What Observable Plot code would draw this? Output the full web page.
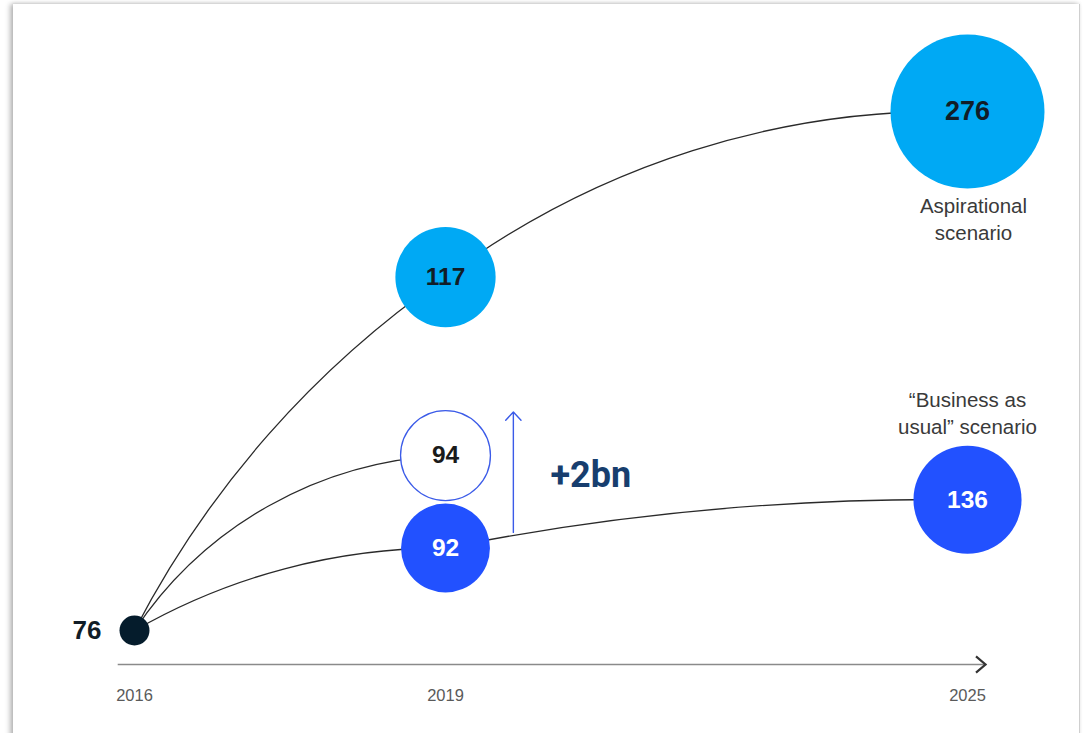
<!DOCTYPE html>
<html>
<head>
<meta charset="utf-8">
<script src="https://cdn.jsdelivr.net/npm/d3@7"></script>
<script src="https://cdn.jsdelivr.net/npm/@observablehq/plot@0.6"></script>
<style>
  html, body { margin: 0; padding: 0; background: #fff; width: 1083px; height: 733px; overflow: hidden; }
  #card { position: absolute; left: 13px; top: 4px; width: 1066px; height: 800px; background: #fff;
          box-shadow: -3px 0 5px rgba(0,0,0,0.28), 0 -1px 3px rgba(0,0,0,0.07); border-right: 1px solid #cfcfcf; }
  #chart { position: absolute; left: 0; top: 0; }
</style>
</head>
<body>
<div id="card"></div>
<div id="chart"></div>
<script>
// ---- Data ----
const years = [2016, 2019, 2025];
const baseYear = 2016;
const baseValue = 76;

// Aspirational scenario: 2016, 2019, 2025
const aspirationalYears = [2016, 2019, 2025];
const aspirationalValues = [76, 117, 276];
// "Business as usual" scenario
const bauYears = [2016, 2019, 2025];
const bauValues = [76, 92, 136];
// Upside point in 2019
const upsideYears = [2016, 2019];
const upsideValues = [76, 94];

// schematic vertical placement of each point (the chart is not drawn to scale)
const aspirationalLevels = [0, 68.1, 100];
const bauLevels = [0, 15.9, 25.2];
const upsideLevels = [0, 33.7];

// annotation: +2bn uplift from BAU to upside
const upliftLabel = "+2bn";
const upliftYear = 2019.78;
const upliftFrom = 18.9;
const upliftTo = 42.1;
const upliftLabelYear = 2020.67;
const upliftLabelLevel = 29.9;

const aspirationalLabel = "Aspirational\nscenario";
const bauLabel = "\u201CBusiness as\nusual\u201D scenario";

// ---- Build tables ----
function series(name, ys, vs, ls) {
  return ys.map((y, i) => ({scenario: name, year: y, value: vs[i], level: ls[i]}));
}
const aspirational = series("Aspirational", aspirationalYears, aspirationalValues, aspirationalLevels);
const bau = series("Business as usual", bauYears, bauValues, bauLevels);
const upside = series("Upside", upsideYears, upsideValues, upsideLevels);

function segments(pts) {
  const out = [];
  for (let i = 1; i < pts.length; i++) out.push({a: pts[i - 1], b: pts[i]});
  return out;
}
const bubbles = [...aspirational.slice(1), ...bau.slice(1), ...upside.slice(1)];
const base = [{year: baseYear, value: baseValue, level: 0}];

const fillOf = {"Aspirational": "#00a9f4", "Business as usual": "#2251ff", "Upside": "#ffffff"};
const textOf = {"Aspirational": "#111d27", "Business as usual": "#ffffff", "Upside": "#1a1a1a"};

const font = "'Liberation Sans', Arial, Helvetica, sans-serif";

const chevron = {
  draw(ctx, size) {
    const r = Math.sqrt(size / Math.PI);
    ctx.moveTo(-r, -r * 0.85);
    ctx.lineTo(0, 0);
    ctx.lineTo(-r, r * 0.85);
  }
};

function link(seg, bend) {
  return Plot.arrow([seg], {
    x1: d => d.a.year, y1: d => d.a.level,
    x2: d => d.b.year, y2: d => d.b.level,
    bend, headLength: 0, stroke: "#2a2a2a", strokeWidth: 1.3
  });
}
const aSeg = segments(aspirational), bSeg = segments(bau), uSeg = segments(upside);

const chart = Plot.plot({
  width: 1083,
  height: 733,
  marginLeft: 118,
  marginRight: 98,
  marginTop: 20,
  marginBottom: 69,
  style: {background: "transparent", fontFamily: font, overflow: "visible"},
  x: {type: "linear", domain: [2016, 2019, 2025], range: [134, 445, 967], label: null},
  y: {domain: [0, 100], range: [630, 111], axis: null, label: null},
  r: {type: "sqrt", domain: [0, 276], range: [0, 77]},
  marks: [
    Plot.frame({anchor: "bottom", stroke: "#8a8a8a", strokeWidth: 1.6}),
    Plot.dot([0], {frameAnchor: "bottom-right", symbol: chevron, r: 9.5, stroke: "#333", strokeWidth: 2.2, fill: "none"}),
    Plot.axisX({ticks: years, tickSize: 0, tickPadding: 25, tickFormat: d => String(d), fontSize: 16.5, fill: "#5a5a5a", label: null}),
    link(aSeg[0], 14),
    link(aSeg[1], 19),
    link(bSeg[0], 15),
    link(bSeg[1], 6),
    link(uSeg[0], 27),
    Plot.arrow([0], {
      x: () => upliftYear, y1: () => upliftFrom, y2: () => upliftTo,
      stroke: "#3b5be8", strokeWidth: 1.4, headLength: 12, headAngle: 86
    }),
    Plot.dot(bubbles, {
      x: "year", y: "level", r: "value",
      fill: d => fillOf[d.scenario],
      stroke: d => d.scenario === "Upside" ? "#3b5be8" : "none",
      strokeWidth: 1.3
    }),
    Plot.dot(base, {x: "year", y: "level", r: 15, fill: "#051c2c"}),
    Plot.text(bubbles, {
      x: "year", y: "level", text: d => String(d.value),
      fill: d => textOf[d.scenario],
      fontSize: d => d.value > 200 ? 27 : 24.5, fontWeight: "bold"
    }),
    Plot.text(base, {x: "year", y: "level", text: d => String(d.value), textAnchor: "end", dx: -33, fontSize: 26, fontWeight: "bold", fill: "#111d27"}),
    Plot.text(aspirational.slice(-1), {x: "year", y: "level", text: () => aspirationalLabel, lineAnchor: "top", dy: 82, dx: 6, fontSize: 20.5, lineHeight: 1.32, fill: "#3a3a3a"}),
    Plot.text(bau.slice(-1), {x: "year", y: "level", text: () => bauLabel, lineAnchor: "bottom", dy: -66, fontSize: 20.5, lineHeight: 1.32, fill: "#3a3a3a"}),
    Plot.text([0], {x: () => upliftLabelYear, y: () => upliftLabelLevel, text: () => upliftLabel, fontSize: 36, fontWeight: "bold", fill: "#173e6e", fontFamily: "Roboto, 'Liberation Sans', sans-serif"})
  ]
});
document.getElementById("chart").appendChild(chart);
</script>
</body>
</html>
